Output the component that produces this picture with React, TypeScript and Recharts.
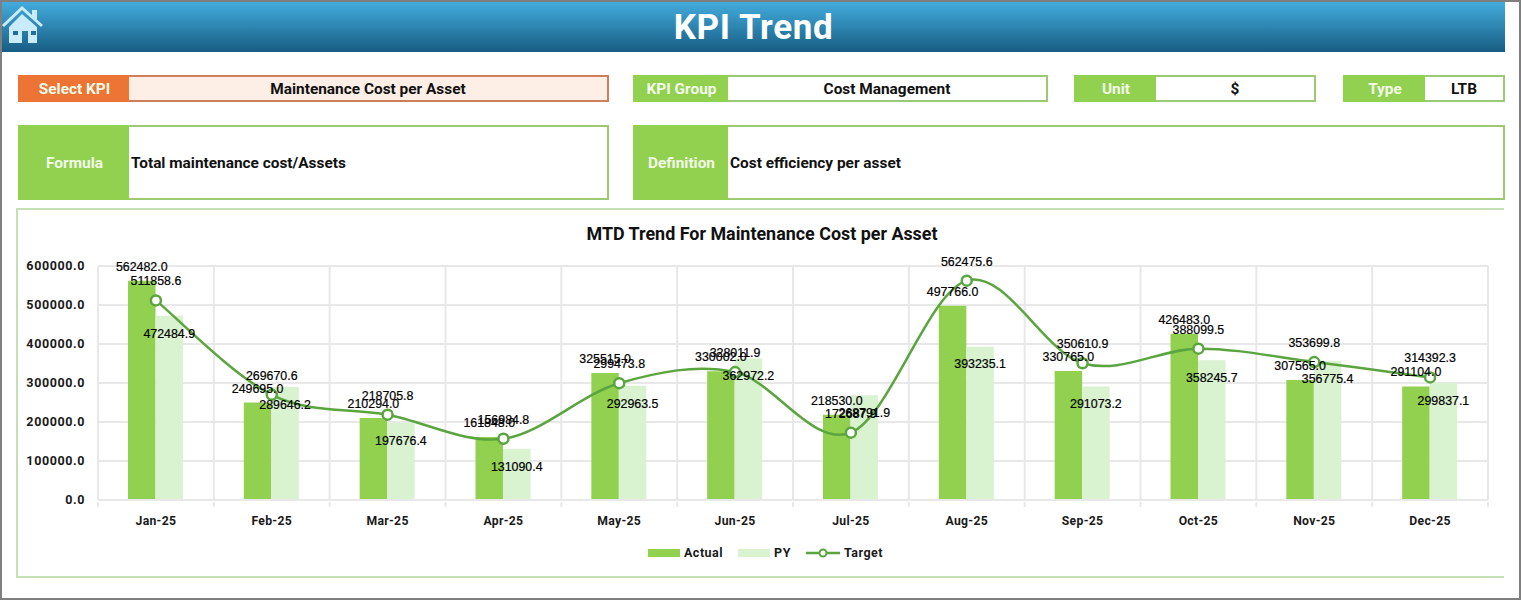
import { Bar, CartesianGrid, ComposedChart, LabelList, Legend, Line, XAxis, YAxis } from "recharts";

const MONTHS = ["Jan-25", "Feb-25", "Mar-25", "Apr-25", "May-25", "Jun-25", "Jul-25", "Aug-25", "Sep-25", "Oct-25", "Nov-25", "Dec-25"];
const ACTUAL = [562482.0, 249695.0, 210294.0, 161848.0, 325515.0, 330002.0, 218530.0, 497766.0, 330765.0, 426483.0, 307565.0, 291104.0];
const PY = [472484.9, 289646.2, 197676.4, 131090.4, 292963.5, 362972.2, 268791.9, 393235.1, 291073.2, 358245.7, 356775.4, 299837.1];
const TARGET = [511858.6, 269670.6, 218705.8, 156984.8, 299473.8, 328011.9, 172687.9, 562475.6, 350610.9, 388099.5, 353699.8, 314392.3];
const Y_TICKS = [0, 100000, 200000, 300000, 400000, 500000, 600000];

const GREEN = "#92D050";
const PALE = "#D9F2D0";
const LINE = "#5AA53E";
const BORDER = "#9DC973";
const GRID = "#E8E8E8";
const ICON = "#C9EBFA";
const UI_FONT = "Roboto, sans-serif";

const chartData = MONTHS.map((month, i) => ({ month, actual: ACTUAL[i], py: PY[i], target: TARGET[i] }));

// Excel style smoothed line: bezier handles are a sixth of the neighbour-to-neighbour vector
function excelSmooth(context: any) {
  let pts: [number, number][] = [];
  return {
    areaStart() {},
    areaEnd() {},
    lineStart() { pts = []; },
    point(x: number, y: number) { pts.push([+x, +y]); },
    lineEnd() {
      pts.forEach((p, i) => {
        if (i === 0) { context.moveTo(p[0], p[1]); return; }
        const p0 = pts[i - 2] ?? pts[i - 1];
        const p1 = pts[i - 1];
        const p3 = pts[i + 1] ?? p;
        context.bezierCurveTo(
          p1[0] + (p[0] - p0[0]) / 6, p1[1] + (p[1] - p0[1]) / 6,
          p[0] - (p3[0] - p1[0]) / 6, p[1] - (p3[1] - p1[1]) / 6,
          p[0], p[1]
        );
      });
    },
  };
}

function MonthTick({ x, y, width, index, payload }: any) {
  const half = width / MONTHS.length / 2;
  // y comes in below the default tick size, pull back to the axis line
  const top = y - 6;
  return (
    <g>
      <line x1={x - half} x2={x - half} y1={top} y2={top + 5} stroke={GRID} strokeWidth={2} />
      {index === MONTHS.length - 1 && <line x1={x + half} x2={x + half} y1={top} y2={top + 5} stroke={GRID} strokeWidth={2} />}
      <text x={x} y={top + 23} textAnchor="middle" fontFamily={UI_FONT} fontWeight={700} fontSize={12.2} letterSpacing={0.3} fill="#1a1a1a">
        {payload.value}
      </text>
    </g>
  );
}

function ChartLegend() {
  const item = { display: "flex", alignItems: "center", gap: 4, fontFamily: UI_FONT, fontWeight: 700, fontSize: 12.5, letterSpacing: 0.5, color: "#1a1a1a" } as const;
  return (
    <div style={{ display: "flex", justifyContent: "center", alignItems: "center", gap: 15, height: 45, paddingLeft: 25 }}>
      <span style={item}><i style={{ width: 32, height: 8, background: GREEN, display: "block" }} />Actual</span>
      <span style={item}><i style={{ width: 32, height: 8, background: PALE, display: "block" }} />PY</span>
      <span style={item}>
        <svg width={34} height={12}>
          <line x1={0} x2={34} y1={6} y2={6} stroke={LINE} strokeWidth={2.5} />
          <circle cx={17} cy={6} r={3.5} fill="#fff" stroke={LINE} strokeWidth={2} />
        </svg>
        Target
      </span>
    </div>
  );
}

const labelStyle = { fontFamily: "'Liberation Sans', Arial, sans-serif", fontSize: 12.4, fill: "#000", stroke: "#000", strokeWidth: 0.2 };
const fmt = (v: any) => Number(v).toFixed(1);

function Field({ x, y, w, h, labelW, label, value, color = GREEN, edge = BORDER, bg = "#fff", align = "center" }: any) {
  return (
    <div style={{ position: "absolute", left: x, top: y, width: w, height: h, boxSizing: "border-box", border: `2px solid ${edge}`, background: bg, display: "flex", fontFamily: UI_FONT, fontWeight: 700, fontSize: 15.4 }}>
      <div style={{ width: labelW - 2, margin: "-2px 0 -2px -2px", paddingLeft: 2, background: color, display: "flex", alignItems: "center", justifyContent: "center" }}>
        <span style={{ color: "#F2FBE8" }}>{label}</span>
      </div>
      <div style={{ flex: 1, display: "flex", alignItems: "center", justifyContent: align, paddingLeft: align === "center" ? 0 : 2, color: "#111" }}>{value}</div>
    </div>
  );
}

export default function App() {
  return (
    <div style={{ position: "absolute", left: 0, top: 0, width: 1521, height: 600, background: "#fff", overflow: "hidden" }}>
      {/* Gray sheet frame */}
      <div style={{ position: "absolute", inset: 0, boxSizing: "border-box", border: "2px solid #7F7F7F" }} />

      {/* Header band */}
      <div style={{ position: "absolute", left: 2, top: 2, width: 1503, height: 50, background: "linear-gradient(#43ACDD, #175D83)", color: "#fff", fontFamily: UI_FONT, fontWeight: 700, fontSize: 35, letterSpacing: 0.6, display: "flex", alignItems: "center", justifyContent: "center" }}>
        KPI Trend
      </div>
      <svg style={{ position: "absolute", left: 0, top: 0 }} width={60} height={56}>
        <path d="M3 26 L22 8 L42 26" fill="none" stroke={ICON} strokeWidth={3} />
        <rect x={32} y={10} width={5} height={9} fill={ICON} />
        <path d="M9 27 L22 14 L37 27 V43 H28 V31 H22 V43 H9 Z" fill={ICON} />
        <rect x={13} y={31} width={5} height={4} fill="#1F6F98" />
        <rect x={31} y={31} width={5} height={4} fill="#1F6F98" />
      </svg>

      <Field x={18} y={75} w={591} h={27} labelW={111} label="Select KPI" value="Maintenance Cost per Asset" color="#EC7434" edge="#CE7F5A" bg="#FDEEE6" />
      <Field x={633} y={75} w={415} h={27} labelW={95} label="KPI Group" value="Cost Management" />
      <Field x={1074} y={75} w={242} h={27} labelW={82} label="Unit" value="$" />
      <Field x={1343} y={75} w={162} h={27} labelW={82} label="Type" value="LTB" />
      <Field x={18} y={125} w={591} h={75} labelW={111} label="Formula" value="Total maintenance cost/Assets" align="flex-start" />
      <Field x={633} y={125} w={872} h={75} labelW={95} label="Definition" value="Cost efficiency per asset" align="flex-start" />

      {/* Chart panel, open on the right */}
      <div style={{ position: "absolute", left: 16, top: 208, width: 1488, height: 370, boxSizing: "border-box", borderStyle: "solid", borderColor: "#C5E0B4", borderWidth: "2px 0 2px 2px" }} />
      <div style={{ position: "absolute", left: 18, top: 224, width: 1488, textAlign: "center", fontFamily: UI_FONT, fontWeight: 700, fontSize: 17.9, lineHeight: "20px", color: "#111" }}>
        MTD Trend For Maintenance Cost per Asset
      </div>
      <div style={{ position: "absolute", left: 18, top: 211 }}>
        <ComposedChart width={1486} height={364} data={chartData} margin={{ top: 55, right: 16, bottom: 0, left: 0 }} barGap={0} barSize={27.5}>
          <CartesianGrid
            stroke={GRID}
            strokeWidth={2}
            verticalCoordinatesGenerator={({ offset }: any) => MONTHS.map((_, i) => offset.left + (offset.width * i) / MONTHS.length).concat(offset.left + offset.width)}
          />
          <XAxis dataKey="month" height={30} axisLine={{ stroke: GRID, strokeWidth: 2 }} tickLine={false} tick={<MonthTick />} interval={0} />
          <YAxis
            width={80}
            domain={[0, 600000]}
            ticks={Y_TICKS}
            tickFormatter={fmt}
            axisLine={{ stroke: GRID, strokeWidth: 2 }}
            tickLine={false}
            tickMargin={7}
            tick={{ fontFamily: UI_FONT, fontWeight: 700, fontSize: 12.5, letterSpacing: 0.6, fill: "#1a1a1a" }}
          />
          <Legend verticalAlign="bottom" height={45} content={<ChartLegend />} />
          <Bar dataKey="actual" name="Actual" fill={GREEN} isAnimationActive={false}>
            <LabelList dataKey="actual" position="top" offset={10} formatter={fmt} style={labelStyle} />
          </Bar>
          <Bar dataKey="py" name="PY" fill={PALE} isAnimationActive={false}>
            <LabelList dataKey="py" position="insideTop" offset={13} formatter={fmt} style={labelStyle} />
          </Bar>
          <Line
            dataKey="target"
            name="Target"
            type={excelSmooth as any}
            stroke={LINE}
            strokeWidth={2.5}
            dot={{ r: 5, fill: "#fff", stroke: LINE, strokeWidth: 2.5 }}
            isAnimationActive={false}
          >
            <LabelList dataKey="target" position="top" offset={15} formatter={fmt} style={labelStyle} />
          </Line>
        </ComposedChart>
      </div>
    </div>
  );
}
